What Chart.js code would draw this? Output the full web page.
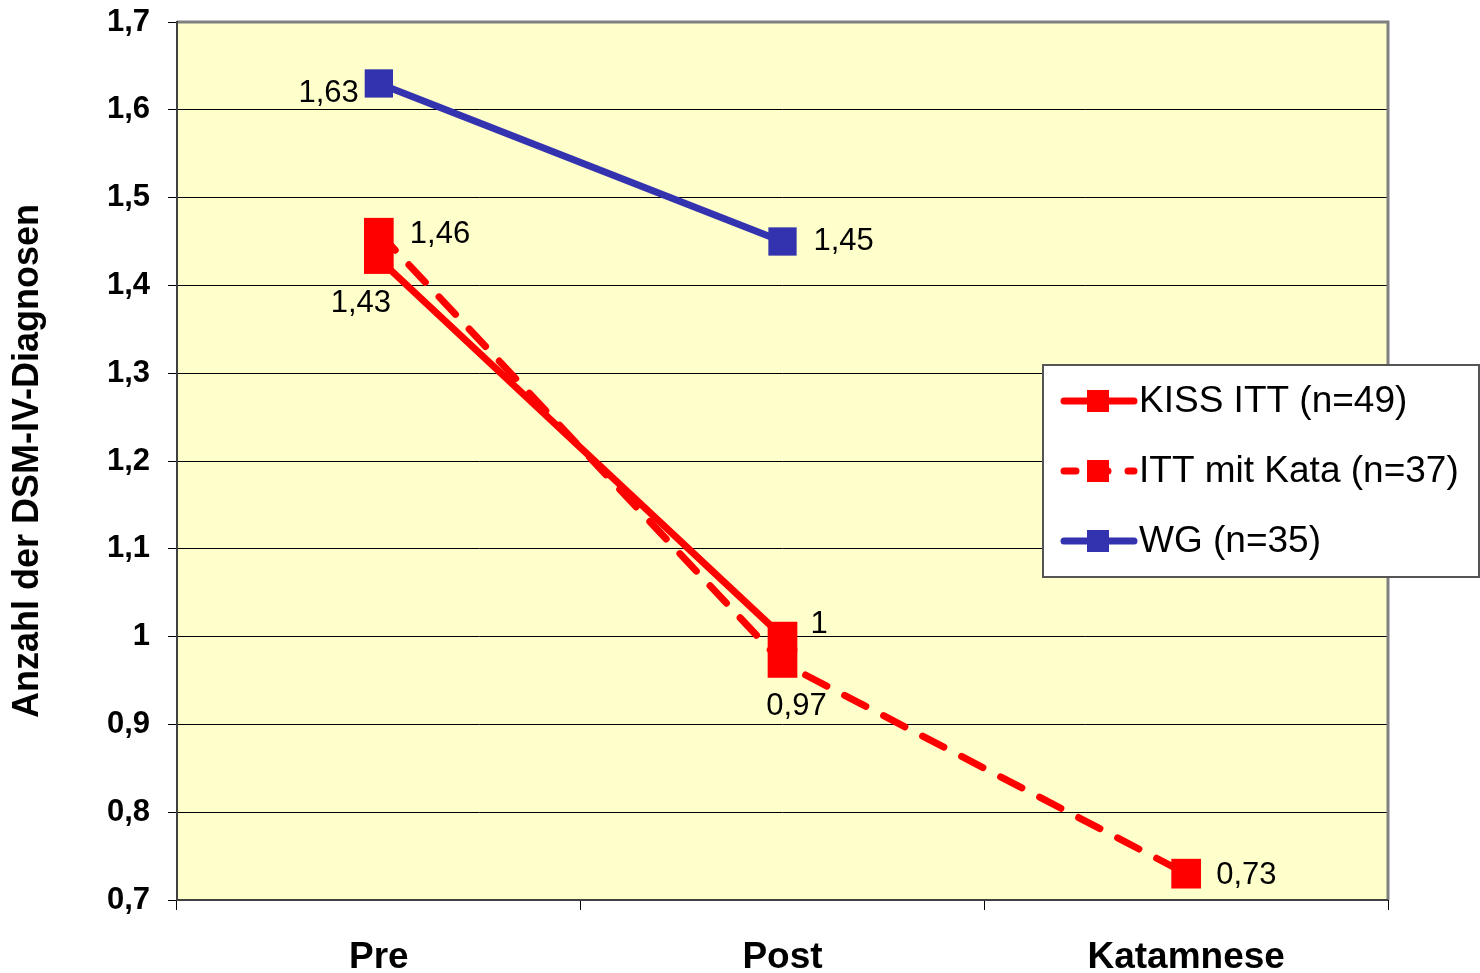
<!DOCTYPE html>
<html>
<head>
<meta charset="utf-8">
<script src="https://cdn.jsdelivr.net/npm/chart.js@4.4.0/dist/chart.umd.min.js"></script>
<style>
  html, body { margin: 0; padding: 0; background: #fff; }
  #wrap { width: 1480px; height: 973px; position: relative; }
</style>
</head>
<body>
<div id="wrap"><canvas id="chart" width="1480" height="973"></canvas></div>
<script>
// data
const categories = ['Pre', 'Post', 'Katamnese'];
const kissItt = [1.43, 1.00, null];
const ittKata = [1.46, 0.97, 0.73];
const wg = [1.63, 1.45, null];
const seriesNames = ['KISS ITT (n=49)', 'ITT mit Kata (n=37)', 'WG (n=35)'];
const yTicks = [0.7, 0.8, 0.9, 1.0, 1.1, 1.2, 1.3, 1.4, 1.5, 1.6, 1.7];

const RED = '#ff0000';
const BLUE = '#3333b0';
const FONT = '"Liberation Sans", Arial, sans-serif';

const fmt = v => String(v).replace('.', ',');

// where each value label sits relative to its point
const labelPlace = [
  [{ dx: -18, dy: 44, align: 'center' }, { dx: 28, dy: -12, align: 'left' }, null],
  [{ dx: 31, dy: 2, align: 'left' }, { dx: 14, dy: 44, align: 'center' }, { dx: 30, dy: 2, align: 'left' }],
  [{ dx: -20, dy: 10, align: 'right' }, { dx: 31, dy: 0, align: 'left' }, null]
];

// yellow plot area with gray frame
const plotBg = {
  id: 'plotBg',
  beforeDraw(chart) {
    const { ctx, chartArea: a } = chart;
    ctx.save();
    ctx.fillStyle = '#ffffcc';
    ctx.fillRect(a.left, a.top, a.right - a.left, a.bottom - a.top);
    ctx.restore();
  },
  afterDraw(chart) {
    const { ctx, chartArea: a } = chart;
    ctx.save();
    ctx.strokeStyle = '#808080';
    ctx.lineWidth = 3;
    ctx.beginPath();
    ctx.moveTo(a.left, a.top);
    ctx.lineTo(a.right, a.top);
    ctx.lineTo(a.right, a.bottom);
    ctx.stroke();
    ctx.strokeStyle = '#404040';
    ctx.lineWidth = 2;
    ctx.beginPath();
    ctx.moveTo(a.left, a.top - 1);
    ctx.lineTo(a.left, a.bottom);
    ctx.lineTo(a.right, a.bottom);
    ctx.stroke();
    ctx.restore();
  }
};

const valueLabels = {
  id: 'valueLabels',
  afterDatasetsDraw(chart) {
    const { ctx } = chart;
    ctx.save();
    ctx.font = '31px ' + FONT;
    ctx.fillStyle = '#000';
    ctx.textBaseline = 'middle';
    chart.data.datasets.forEach((ds, i) => {
      const meta = chart.getDatasetMeta(i);
      meta.data.forEach((pt, j) => {
        const v = ds.data[j];
        const p = labelPlace[i][j];
        if (v == null || !p) return;
        ctx.textAlign = p.align;
        ctx.fillText(fmt(v), pt.x + p.dx, pt.y + p.dy);
      });
    });
    ctx.restore();
  }
};

const boxLegend = {
  id: 'boxLegend',
  afterDraw(chart) {
    const { ctx } = chart;
    const x = 1043, y = 365, w = 436, h = 212;
    ctx.save();
    ctx.fillStyle = '#fff';
    ctx.fillRect(x, y, w, h);
    ctx.strokeStyle = '#555';
    ctx.lineWidth = 2;
    ctx.strokeRect(x, y, w, h);
    chart.data.datasets.forEach((ds, i) => {
      const cy = y + 36 + i * 70;
      ctx.strokeStyle = ds.borderColor;
      ctx.lineWidth = 7;
      ctx.lineCap = 'round';
      ctx.setLineDash(ds.borderDash && ds.borderDash.length ? [12, 20] : []);
      ctx.beginPath();
      ctx.moveTo(x + 21, cy);
      ctx.lineTo(x + 91, cy);
      ctx.stroke();
      ctx.setLineDash([]);
      ctx.fillStyle = ds.borderColor;
      ctx.fillRect(x + 44, cy - 11, 22, 22);
      ctx.fillStyle = '#000';
      ctx.font = '37px ' + FONT;
      ctx.textBaseline = 'middle';
      ctx.textAlign = 'left';
      ctx.fillText(ds.label, x + 96, cy + 1);
    });
    ctx.restore();
  }
};

function line(label, data, color, dash, size) {
  return {
    label,
    data,
    borderColor: color,
    backgroundColor: color,
    borderWidth: 7,
    borderDash: dash,
    borderCapStyle: 'round',
    pointStyle: 'rect',
    pointRadius: size,
    pointBorderWidth: 0,
    tension: 0,
    spanGaps: false
  };
}

new Chart(document.getElementById('chart'), {
  type: 'line',
  data: {
    labels: categories,
    datasets: [
      line(seriesNames[0], kissItt, RED, [], 21),
      line(seriesNames[1], ittKata, RED, [24, 20], 21),
      line(seriesNames[2], wg, BLUE, [], 20)
    ]
  },
  options: {
    responsive: false,
    animation: false,
    devicePixelRatio: 1,
    layout: { padding: { top: 22, right: 92, left: 0, bottom: 0 } },
    plugins: {
      legend: { display: false },
      tooltip: { enabled: false }
    },
    scales: {
      x: {
        offset: true,
        afterFit(s) { s.height = 73; s.paddingLeft = 0; s.paddingRight = 0; },
        grid: { drawOnChartArea: false, color: '#000', tickLength: 10, offset: true },
        border: { display: false },
        ticks: {
          color: '#000',
          padding: 26,
          font: { family: FONT, size: 37, weight: 'bold' }
        }
      },
      y: {
        min: 0.7,
        max: 1.7,
        afterFit(s) { s.width = 177; s.paddingTop = 0; s.paddingBottom = 0; },
        afterBuildTicks(s) { s.ticks = yTicks.map(v => ({ value: v })); },
        grid: { color: '#000', lineWidth: 1, tickLength: 9 },
        border: { display: false },
        ticks: {
          color: '#000',
          padding: 18,
          callback: v => fmt(Math.round(v * 10) / 10),
          font: { family: FONT, size: 31, weight: 'bold' }
        },
        title: {
          display: true,
          text: 'Anzahl der DSM-IV-Diagnosen',
          color: '#000',
          padding: { top: 6, bottom: 0 },
          font: { family: FONT, size: 36, weight: 'bold' }
        }
      }
    }
  },
  plugins: [plotBg, valueLabels, boxLegend]
});
</script>
</body>
</html>
